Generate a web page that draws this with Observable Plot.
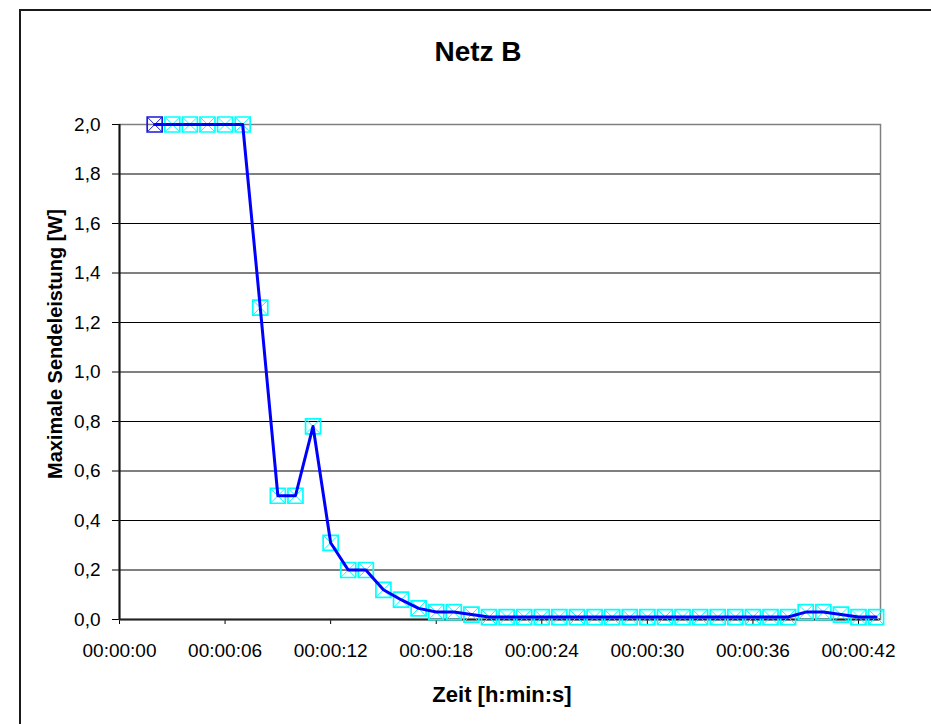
<!DOCTYPE html>
<html>
<head>
<meta charset="utf-8">
<script src="https://cdn.jsdelivr.net/npm/d3@7"></script>
<script src="https://cdn.jsdelivr.net/npm/@observablehq/plot@0.6"></script>
<style>
  html, body { margin: 0; padding: 0; overflow: hidden; background: #fff; }
  #wrap { position: relative; width: 931px; height: 724px; font-family: "Liberation Sans", Arial, sans-serif; }
  #frame { position: absolute; left: 19px; top: 9px; width: 1000px; height: 1000px;
           border-top: 2px solid #1a1a1a; border-left: 2px solid #1a1a1a; pointer-events: none; }
  #title { box-sizing: border-box; width: 931px; height: 90px; padding: 36px 0 0 25px;
           text-align: center; font-size: 28px; line-height: 32px; font-weight: bold; color: #000; }
  #chart { position: relative; }
</style>
</head>
<body>
<div id="wrap">
  <div id="frame"></div>
  <div id="title">Netz B</div>
  <div id="chart"></div>
</div>
<script>
// Time since start of measurement, in seconds
const seconds = [2, 3, 4, 5, 6, 7, 8, 9, 10, 11, 12, 13, 14, 15, 16, 17, 18, 19, 20, 21,
                 22, 23, 24, 25, 26, 27, 28, 29, 30, 31, 32, 33, 34, 35, 36, 37, 38, 39, 40, 41, 42, 43];
// Maximum transmit power in watts
const power = [2.0, 2.0, 2.0, 2.0, 2.0, 2.0, 1.26, 0.50, 0.50, 0.78, 0.31, 0.20, 0.20, 0.12, 0.08, 0.045,
               0.03, 0.03, 0.02, 0.01, 0.01, 0.01, 0.01, 0.01, 0.01, 0.01, 0.01, 0.01, 0.01, 0.01,
               0.01, 0.01, 0.01, 0.01, 0.01, 0.01, 0.01, 0.03, 0.03, 0.02, 0.01, 0.01];
// Axis ticks
const xTickSeconds = [0, 6, 12, 18, 24, 30, 36, 42];
const yTickValues = [0, 0.2, 0.4, 0.6, 0.8, 1.0, 1.2, 1.4, 1.6, 1.8, 2.0];

const data = seconds.map((t, i) => ({t, p: power[i]}));

const fmtX = s => "00:00:" + String(s).padStart(2, "0");
const fmtY = v => d3.format(".1f")(v).replace(".", ",");

// Square outline and diagonal cross, half side = r
const squareSymbol = {
  draw(ctx, size) {
    const h = Math.sqrt(size / Math.PI);
    ctx.moveTo(-h, -h); ctx.lineTo(h, -h); ctx.lineTo(h, h); ctx.lineTo(-h, h); ctx.closePath();
  }
};
const crossSymbol = {
  draw(ctx, size) {
    const h = Math.sqrt(size / Math.PI);
    ctx.moveTo(-h, -h); ctx.lineTo(h, h);
    ctx.moveTo(h, -h); ctx.lineTo(-h, h);
  }
};
const markerColor = (d, i) => (i === 0 ? "#1a1ad8" : "#00ffff");

const chart = Plot.plot({
  width: 931,
  height: 634,
  marginTop: 34,
  marginBottom: 105,
  marginLeft: 119,
  marginRight: 51,
  style: {
    fontFamily: "'Liberation Sans', Arial, sans-serif",
    fontSize: "19px",
    color: "#000",
    background: "transparent",
    overflow: "visible"
  },
  x: {domain: [0, 43.25], ticks: xTickSeconds, tickFormat: fmtX, tickSize: 5, tickPadding: 19, label: null},
  y: {domain: [0, 2], ticks: yTickValues, tickFormat: fmtY, tickSize: 7, tickPadding: 12, label: null},
  marks: [
    Plot.frame({stroke: "#808080", strokeWidth: 1.5}),
    Plot.ruleY(yTickValues.filter(v => v > 0 && v < 2), {stroke: "#000", strokeWidth: 1}),
    Plot.ruleX([0], {stroke: "#111", strokeWidth: 2}),
    Plot.ruleY([0], {stroke: "#222", strokeWidth: 2}),
    Plot.dot(data, {x: "t", y: "p", symbol: squareSymbol, r: 7.5, fill: "none", stroke: markerColor, strokeWidth: 1.7}),
    Plot.dot(data, {x: "t", y: "p", symbol: crossSymbol, r: 7.5, fill: "none", stroke: markerColor, strokeWidth: 1}),
    Plot.line(data, {x: "t", y: "p", stroke: "#0000ff", strokeWidth: 3}),
    Plot.text(["Maximale Sendeleistung [W]"], {
      frameAnchor: "left", textAnchor: "middle", lineAnchor: "middle", rotate: -90,
      dx: -64, dy: -28, fontSize: 20, fontWeight: "bold", fill: "#000"
    }),
    Plot.text(["Zeit [h:min:s]"], {
      frameAnchor: "bottom", textAnchor: "middle", lineAnchor: "middle",
      dx: 2, dy: 75, fontSize: 22, fontWeight: "bold", fill: "#000"
    })
  ]
});
document.getElementById("chart").appendChild(chart);
</script>
</body>
</html>
